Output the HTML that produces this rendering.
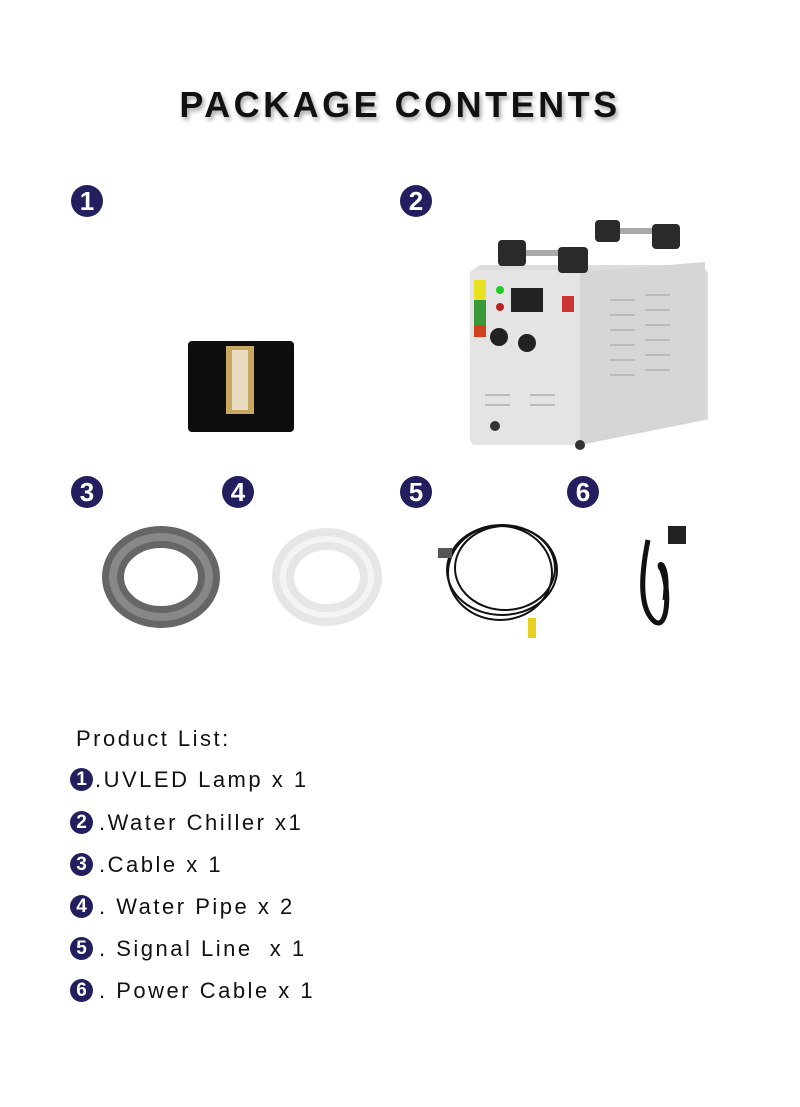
<!DOCTYPE html>
<html><head><style>
body{margin:0;width:800px;height:1107px;background:#fff;position:relative;overflow:hidden;font-family:"Liberation Sans",sans-serif}
.t{position:absolute;top:84px;left:0;width:800px;text-align:center;font-weight:bold;font-size:36px;letter-spacing:3.5px;color:#111;text-shadow:2px 3px 4px rgba(0,0,0,.35)}
.b{position:absolute;width:32px;height:32px;border-radius:50%;background:#231f5f;color:#fff;font-weight:bold;font-size:26px;line-height:32px;text-align:center}
.s{position:absolute;width:23px;height:23px;border-radius:50%;background:#231f5f;color:#fff;font-weight:bold;font-size:19px;line-height:23px;text-align:center}
.l{position:absolute;left:70px;font-size:22px;letter-spacing:2.5px;color:#111;line-height:26px}
</style></head><body>
<div class="t">PACKAGE CONTENTS</div>
<div class="b" style="left:71px;top:185px">1</div>
<div class="b" style="left:400px;top:185px">2</div>
<div class="b" style="left:71px;top:476px">3</div>
<div class="b" style="left:222px;top:476px">4</div>
<div class="b" style="left:400px;top:476px">5</div>
<div class="b" style="left:567px;top:476px">6</div>
<svg width="800" height="700" style="position:absolute;left:0;top:0">
<rect x="188" y="341" width="106" height="91" rx="4" fill="#0d0d0d"/>
<rect x="226" y="346" width="28" height="68" fill="#c9a860"/>
<rect x="232" y="350" width="16" height="60" fill="#e8dcc0"/>
<path d="M470 272 L480 265 L700 265 L708 272 L708 420 L470 420Z" fill="#dcdcdc"/>
<rect x="470" y="270" width="110" height="175" rx="6" fill="#e4e4e4"/>
<path d="M580 272 L705 262 L705 420 L580 445Z" fill="#d6d6d6"/>
<rect x="500" y="250" width="85" height="6" fill="#aaa"/>
<rect x="600" y="228" width="80" height="6" fill="#aaa"/>
<rect x="498" y="240" width="28" height="26" rx="4" fill="#2a2a2a"/>
<rect x="558" y="247" width="30" height="26" rx="4" fill="#2a2a2a"/>
<rect x="595" y="220" width="25" height="22" rx="4" fill="#2a2a2a"/>
<rect x="652" y="224" width="28" height="25" rx="4" fill="#2a2a2a"/>
<rect x="474" y="280" width="12" height="20" fill="#e8e020"/>
<rect x="474" y="300" width="12" height="25" fill="#3a9a3a"/>
<rect x="474" y="325" width="12" height="12" fill="#d04020"/>
<rect x="511" y="288" width="32" height="24" fill="#222"/>
<circle cx="500" cy="290" r="4" fill="#2c2"/><circle cx="500" cy="307" r="4" fill="#b22"/>
<circle cx="499" cy="337" r="9" fill="#222"/><circle cx="527" cy="343" r="9" fill="#222"/>
<rect x="562" y="296" width="12" height="16" fill="#c33"/>
<g stroke="#bbb" stroke-width="2"><path d="M610 300h25M610 315h25M610 330h25M610 345h25M610 360h25M610 375h25M645 295h25M645 310h25M645 325h25M645 340h25M645 355h25M645 370h25M485 395h25M485 405h25M530 395h25M530 405h25"/></g>
<circle cx="495" cy="426" r="5" fill="#333"/><circle cx="580" cy="445" r="5" fill="#333"/>
<ellipse cx="161" cy="577" rx="48" ry="40" fill="none" stroke="#666" stroke-width="22"/>
<ellipse cx="161" cy="577" rx="48" ry="40" fill="none" stroke="#888" stroke-width="8"/>
<ellipse cx="327" cy="577" rx="44" ry="38" fill="none" stroke="#e6e6e6" stroke-width="22"/>
<ellipse cx="327" cy="577" rx="44" ry="38" fill="none" stroke="#f4f4f4" stroke-width="6"/>
<g fill="none" stroke="#111" stroke-width="2"><ellipse cx="502" cy="570" rx="55" ry="45"/><ellipse cx="505" cy="568" rx="50" ry="42"/><ellipse cx="500" cy="573" rx="52" ry="47"/></g>
<rect x="438" y="548" width="14" height="10" fill="#555"/>
<rect x="528" y="618" width="8" height="20" fill="#e8d020"/>
<g fill="none" stroke="#111" stroke-width="5"><path d="M648 540 C640 580 640 610 655 622 C668 630 670 590 662 570 C655 560 670 560 665 600"/></g>
<rect x="668" y="526" width="18" height="18" fill="#222"/>
</svg>
<div class="l" style="left:76px;top:726px">Product List:</div>
<div class="s" style="left:70px;top:768px">1</div><div class="l" style="left:95px;top:767px">.UVLED Lamp x 1</div>
<div class="s" style="left:70px;top:811px">2</div><div class="l" style="left:99px;top:810px">.Water Chiller x1</div>
<div class="s" style="left:70px;top:853px">3</div><div class="l" style="left:99px;top:852px">.Cable x 1</div>
<div class="s" style="left:70px;top:895px">4</div><div class="l" style="left:99px;top:894px">. Water Pipe x 2</div>
<div class="s" style="left:70px;top:937px">5</div><div class="l" style="left:99px;top:936px">. Signal Line &nbsp;x 1</div>
<div class="s" style="left:70px;top:979px">6</div><div class="l" style="left:99px;top:978px">. Power Cable x 1</div>
</body></html>
